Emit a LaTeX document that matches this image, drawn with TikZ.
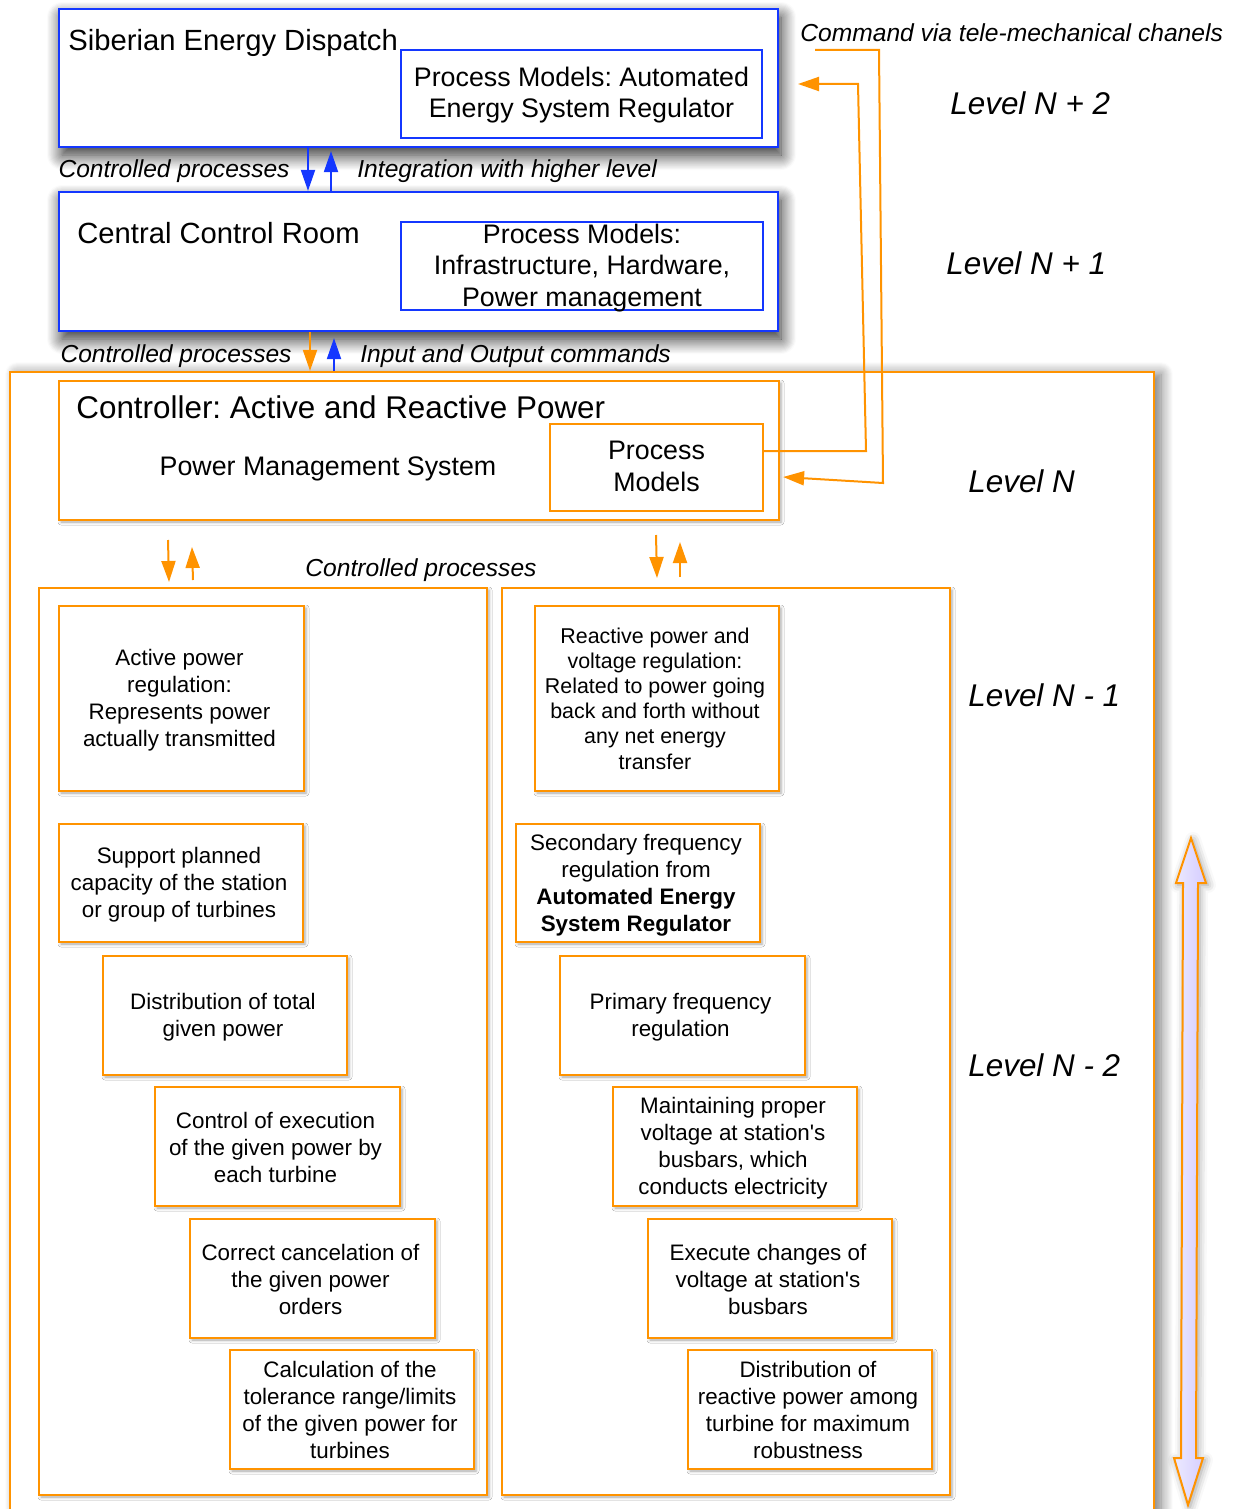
\documentclass[tikz,border=0pt]{standalone}
\usepackage{fontspec}
\setmainfont{Liberation Sans}[Ligatures=TeXOff]
\frenchspacing
\usetikzlibrary{arrows.meta,fit,shadows.blur}
\definecolor{orng}{RGB}{255,147,0}
\definecolor{dblue}{RGB}{20,55,255}
\definecolor{lavA}{RGB}{236,234,255}
\definecolor{lavB}{RGB}{212,204,255}

\begin{document}
\begin{tikzpicture}[x=0.5pt,y=-0.5pt,
  bluebox/.style={draw=dblue, line width=1.1pt, fill=white, inner sep=0pt},
  orbox/.style={draw=orng, line width=1.1pt, fill=white, inner sep=0pt},
  heavyshadow/.style={blur shadow={shadow xshift=1.5pt, shadow yshift=-4pt, shadow blur radius=7.5pt, shadow blur steps=14, shadow opacity=85}},
  sideshadow/.style={blur shadow={shadow xshift=3.5pt, shadow yshift=-1pt, shadow blur radius=6pt, shadow blur steps=12, shadow opacity=55}},
  lightshadow/.style={blur shadow={shadow xshift=1pt, shadow yshift=-1pt, shadow blur radius=1.5pt, shadow opacity=35}},
  body/.style={font=\fontsize{11.2}{13.5}\selectfont, align=center, inner sep=0pt},
  big/.style={font=\fontsize{13.4}{15.9}\selectfont, align=center, inner sep=0pt},
  title/.style={font=\fontsize{14.6}{17}\selectfont, anchor=base west, inner sep=0pt},
  lab/.style={font=\fontsize{12.3}{14}\selectfont\itshape, inner sep=0pt},
  lvl/.style={font=\fontsize{15.7}{18}\selectfont\itshape, anchor=base west, inner sep=0pt},
  barrow/.style={draw=dblue, line width=1pt, -{Triangle[length=10.5pt,width=7pt]}},
  oarrow/.style={draw=orng, line width=1pt, -{Triangle[length=10.5pt,width=7pt]}},
]
\useasboundingbox (0,0) rectangle (1235,1509);

% ---------- level N+2 : dispatch ----------
\node[bluebox, heavyshadow, fit={(59,9) (778,147)}] (sib) {};
\node[title] (sibt) at (68,51) {Siberian Energy Dispatch};
\node[bluebox, fit={(401,50) (762,138)}] (sibpm) {};
\node[big] (sibpmt) at ([yshift=-0.5pt]sibpm.center) {Process Models: Automated\\Energy System Regulator};

% ---------- level N+1 : control room ----------
\node[bluebox, heavyshadow, fit={(59,192) (778,331)}] (ccr) {};
\node[title] (ccrt) at (77,243) {Central Control Room};
\node[bluebox, fit={(401,222) (763,310)}] (ccrpm) {};
\node[big] (ccrpmt) at ([yshift=-1pt]ccrpm.center) {Process Models:\\Infrastructure, Hardware,\\Power management};

% ---------- level N : controller ----------
\node[orbox, sideshadow, fit={(10,372) (1154,1540)}] (outer) {};
\node[orbox, lightshadow, fit={(59,381) (779,520)}] (ctrl) {};
\node[title, font=\fontsize{15.7}{18}\selectfont] (ctrlt) at (76,418) {Controller: Active and Reactive Power};
\node[font=\fontsize{13.4}{16}\selectfont, anchor=base, inner sep=0pt] (pms) at (328,475) {Power Management System};
\node[orbox, fit={(550,424) (763,511)}] (pm) {};
\node[big] (pmt) at ([yshift=0.5pt]pm.center) {Process\\Models};

% ---------- level N-1 / N-2 : regulation groups ----------
\node[orbox, lightshadow, fit={(39,588) (487,1495)}] (grpL) {};
\node[orbox, lightshadow, fit={(502,588) (950,1495)}] (grpR) {};

\node[orbox, lightshadow, fit={(59,606) (304,791)}] (l1) {};
\node[orbox, lightshadow, fit={(59,824) (303,942)}] (l2) {};
\node[orbox, lightshadow, fit={(103,956) (347,1075)}] (l3) {};
\node[orbox, lightshadow, fit={(155,1087) (400,1206)}] (l4) {};
\node[orbox, lightshadow, fit={(190,1219) (435,1338)}] (l5) {};
\node[orbox, lightshadow, fit={(230,1350) (474,1469)}] (l6) {};
\node[body] (l1t) at ([xshift=-1pt,yshift=-1pt]l1.center) {Active power\\regulation:\\Represents power\\actually transmitted};
\node[body] (l2t) at ([xshift=-1pt,yshift=-1pt]l2.center) {Support planned\\capacity of the station\\or group of turbines};
\node[body] (l3t) at ([xshift=-1pt,yshift=-1pt]l3.center) {Distribution of total\\given power};
\node[body] (l4t) at ([xshift=-1pt,yshift=-0.5pt]l4.center) {Control of execution\\of the given power by\\each turbine};
\node[body] (l5t) at ([xshift=-1pt,yshift=-0.5pt]l5.center) {Correct cancelation of\\the given power\\orders};
\node[body] (l6t) at ([xshift=-1pt,yshift=0pt]l6.center) {Calculation of the\\tolerance range/limits\\of the given power for\\turbines};

\node[orbox, lightshadow, fit={(535,606) (779,791)}] (r1) {};
\node[orbox, lightshadow, fit={(516,824) (760,942)}] (r2) {};
\node[orbox, lightshadow, fit={(560,956) (805,1075)}] (r3) {};
\node[orbox, lightshadow, fit={(613,1087) (857,1206)}] (r4) {};
\node[orbox, lightshadow, fit={(648,1219) (892,1338)}] (r5) {};
\node[orbox, lightshadow, fit={(688,1350) (932,1469)}] (r6) {};
\node[body, font=\fontsize{10.7}{12.6}\selectfont] (r1t) at ([xshift=-1pt,yshift=0pt]r1.center) {Reactive power and\\voltage regulation:\\Related to power going\\back and forth without\\any net energy\\transfer};
\node[body] (r2t) at ([xshift=-1pt,yshift=-1pt]r2.center) {Secondary frequency\\regulation from\\\textbf{Automated Energy}\\\textbf{System Regulator}};
\node[body] (r3t) at ([xshift=-1pt,yshift=-1pt]r3.center) {Primary frequency\\regulation};
\node[body] (r4t) at ([xshift=-1pt,yshift=-1pt]r4.center) {Maintaining proper\\voltage at station's\\busbars, which\\conducts electricity};
\node[body] (r5t) at ([xshift=-1pt,yshift=-0.5pt]r5.center) {Execute changes of\\voltage at station's\\busbars};
\node[body] (r6t) at ([xshift=-1pt,yshift=0pt]r6.center) {Distribution of\\reactive power among\\turbine for maximum\\robustness};

% ---------- labels ----------
\node[lab, anchor=base east] (cp1) at (290,177) {Controlled processes};
\node[lab, anchor=base west] (ihl) at (357,177) {Integration with higher level};
\node[lab, anchor=base east] (cp2) at (292,362) {Controlled processes};
\node[lab, anchor=base west] (ioc) at (360,362) {Input and Output commands};
\node[lab, anchor=base] (cp3) at (421,576) {Controlled processes};
\node[lab, anchor=base west] (tele) at (800,42) {Command via tele-mechanical chanels};

\node[lvl] (lv2) at (950,114) {Level N + 2};
\node[lvl] (lv1) at (946,274) {Level N + 1};
\node[lvl] (lv0) at (968,492) {Level N};
\node[lvl] (lvm1) at (968,706) {Level N - 1};
\node[lvl] (lvm2) at (968,1076) {Level N - 2};

% ---------- vertical connectors ----------
\coordinate (xa) at (308,0);
\coordinate (xb) at (331,0);
\draw[barrow] (sib.south -| xa) -- (ccr.north -| xa);
\draw[barrow] (ccr.north -| xb) -- ([yshift=-1.5pt]sib.south -| xb);

\coordinate (xc) at (310,0);
\coordinate (xd) at (334,0);
\draw[oarrow] (ccr.south -| xc) -- (outer.north -| xc);
\draw[barrow] (outer.north -| xd) -- ([yshift=-3pt]ccr.south -| xd);

\coordinate (dl0) at (168,540);
\coordinate (dl1) at (169,582);
\coordinate (ul0) at (193,580);
\coordinate (ul1) at (192,547);
\coordinate (dr0) at (656,535);
\coordinate (dr1) at (657,578);
\coordinate (ur0) at (680,577);
\coordinate (ur1) at (680,542);
\draw[oarrow] (dl0) -- (dl1);
\draw[oarrow] (ul0) -- (ul1);
\draw[oarrow] (dr0) -- (dr1);
\draw[oarrow] (ur0) -- (ur1);

% ---------- tele-mechanical command lines ----------
\coordinate (cmdin) at (798,84);
\coordinate (cmdout) at (815,50);
\draw[oarrow] ([yshift=8.25pt]pm.east) -- (866,451) -- (858,84) -- (cmdin);
\draw[oarrow] (cmdout) -- (879,50) -- (883,483) -- ([xshift=9.5pt,yshift=-4.75pt]pm.east);

% ---------- hierarchy double arrow ----------
\path[draw=orng, line width=1pt, left color=lavA, right color=lavB,
      blur shadow={shadow xshift=1pt, shadow yshift=-1pt, shadow blur radius=4pt, shadow opacity=40}]
  (1191,838) -- (1206,883) -- (1198,883) -- (1196,1458) -- (1203,1458)
  -- (1188,1505) -- (1174,1458) -- (1181,1458) -- (1183,883) -- (1176,883) -- cycle;

\end{tikzpicture}
\end{document}
